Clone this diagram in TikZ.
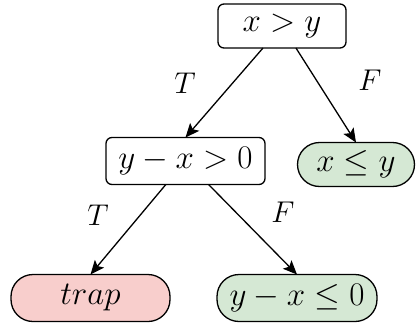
\RequirePackage{fix-cm}
\documentclass[tikz,border=0pt]{standalone}
\usetikzlibrary{arrows.meta}
\definecolor{pinkfill}{HTML}{F8CECC}
\definecolor{greenfill}{HTML}{D5E8D4}
\tikzset{
  base/.style={draw=black, line width=1.3pt, inner sep=0pt, outer sep=0pt,
    font=\fontsize{33}{40}\selectfont},
  testbox/.style={base, rectangle, rounded corners=6pt, fill=white},
  leafbox/.style={base, rectangle, rounded corners=22pt},
  goodleaf/.style={leafbox, fill=greenfill},
  badleaf/.style={leafbox, fill=pinkfill},
  edgeline/.style={line width=1.3pt, -{Stealth[length=14pt,width=12pt,inset=3pt]}},
  lbl/.style={font=\fontsize{30}{36}\selectfont, inner sep=0pt}
}
\begin{document}
\begin{tikzpicture}[x=1pt,y=-1pt]
\useasboundingbox (0,0) rectangle (418,327);
\node[testbox, minimum width=128pt, minimum height=44pt] (root) at (282,26) {$x>y$};
\node[testbox, minimum width=159pt, minimum height=47pt] (mid) at (185.5,161) {$y-x>0$};
\node[goodleaf, minimum width=117pt, minimum height=44pt] (le) at (356,164.5) {$x\leq y$};
\node[badleaf, minimum width=159pt, minimum height=47pt] (trap) at (90.5,298) {$trap$};
\node[goodleaf, minimum width=160pt, minimum height=47pt] (le0) at (297,298) {$y-x\leq 0$};
\draw[edgeline] (root) -- (mid.north);
\draw[edgeline] (root) -- (le.north);
\draw[edgeline] (mid) -- (trap.north);
\draw[edgeline] (mid) -- (le0.north);
\node[lbl] (t1) at (185,83) {$T$};
\node[lbl] (f1) at (370,80) {$F$};
\node[lbl] (t2) at (98,215) {$T$};
\node[lbl] (f2) at (283,212) {$F$};
\end{tikzpicture}
\end{document}
